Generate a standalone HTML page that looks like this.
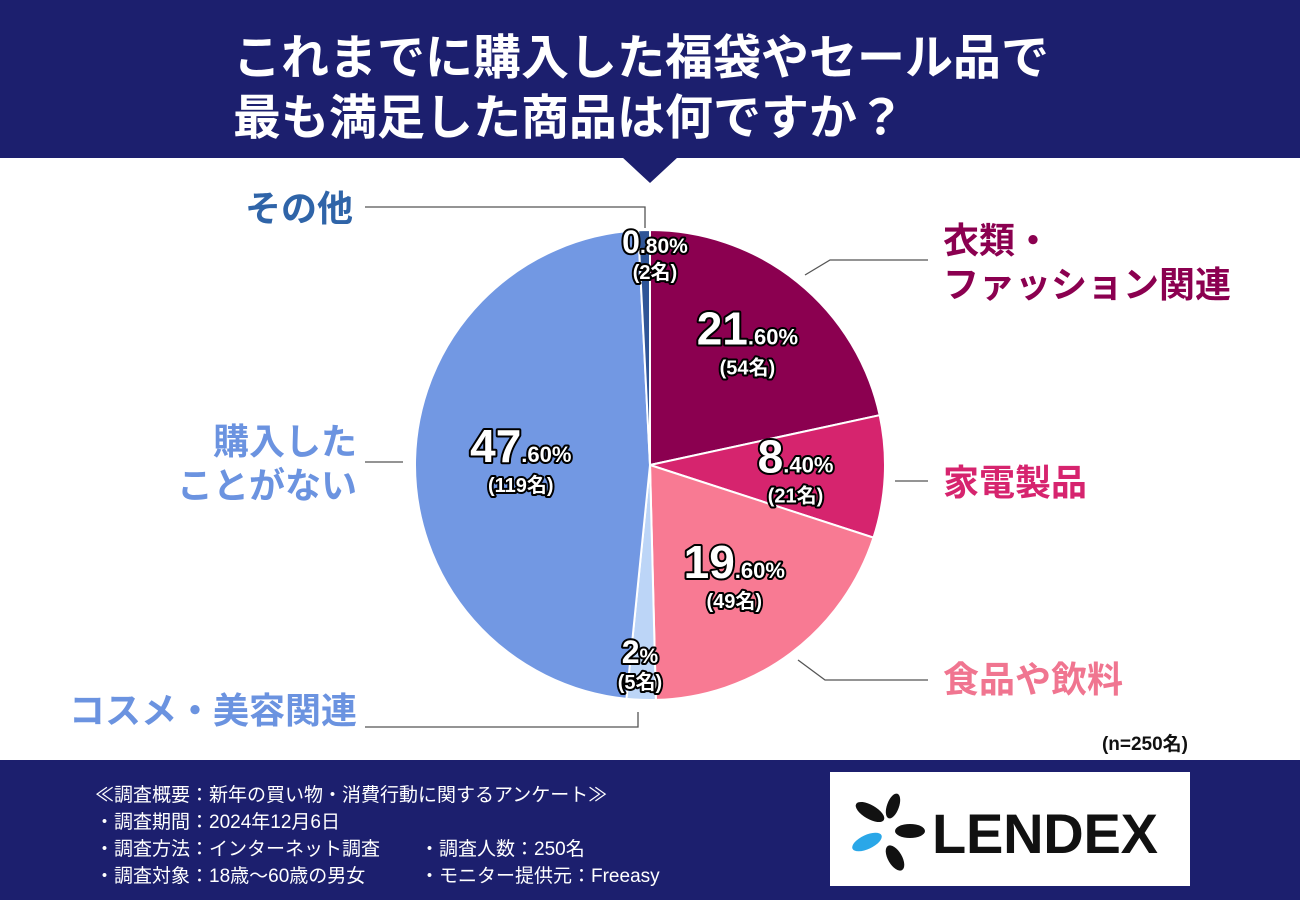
<!DOCTYPE html>
<html><head><meta charset="utf-8"><style>
body{margin:0;width:1300px;height:900px;overflow:hidden;background:#fff;font-family:"Liberation Sans","Noto Sans CJK JP",sans-serif}
svg text{font-family:"Liberation Sans","Noto Sans CJK JP",sans-serif}
</style></head><body>
<svg width="1300" height="900">
<rect x="0" y="0" width="1300" height="158" fill="#1c1f6e"/>
<polygon points="622,157 678,157 650,183" fill="#1c1f6e"/>
<text x="233" y="74" fill="#fff" font-size="48" font-weight="bold">これまでに購入した福袋やセール品で</text>
<text x="233" y="134" fill="#fff" font-size="48" font-weight="bold">最も満足した商品は何ですか？</text>
<g id="pie"></g>
<g id="leaders" stroke="#555" stroke-width="1.3" fill="none">
<polyline points="365,207 645,207 645,228"/>
<polyline points="805,275 830,260 928,260"/>
<polyline points="895,481 928,481"/>
<polyline points="798,660 825,680 928,680"/>
<polyline points="365,462 403,462"/>
<polyline points="365,727 638,727 638,712"/>
</g>
<g font-weight="bold" font-size="36">
<text x="245" y="221" fill="#2f64a8">その他</text>
<text x="943" y="253" fill="#8b0050">衣類・</text>
<text x="943" y="297" fill="#8b0050">ファッション関連</text>
<text x="943" y="495" fill="#d6246e">家電製品</text>
<text x="943" y="692" fill="#f07590">食品や飲料</text>
<text x="357" y="454" fill="#6b93e0" text-anchor="end">購入した</text>
<text x="357" y="498" fill="#6b93e0" text-anchor="end">ことがない</text>
<text x="357" y="723" fill="#6b93e0" text-anchor="end">コスメ・美容関連</text>
</g>
<g id="vals" font-weight="bold" stroke="#000" stroke-width="4" paint-order="stroke" fill="#fff" stroke-linejoin="round"></g>
<text x="1188" y="750" font-size="19" font-weight="bold" text-anchor="end" fill="#111">(n=250名)</text>
<rect x="0" y="760" width="1300" height="140" fill="#1c1f6e"/>
<g fill="#fff" font-size="19">
<text x="95" y="801">≪調査概要：新年の買い物・消費行動に関するアンケート≫</text>
<text x="95" y="828">・調査期間：2024年12月6日</text>
<text x="95" y="855">・調査方法：インターネット調査</text>
<text x="420" y="855">・調査人数：250名</text>
<text x="95" y="882">・調査対象：18歳〜60歳の男女</text>
<text x="420" y="882">・モニター提供元：Freeasy</text>
</g>
<rect x="830" y="772" width="360" height="114" fill="#fff"/>
<g>
<ellipse cx="870" cy="812" rx="16" ry="7" transform="rotate(30 870 812)" fill="#111"/>
<ellipse cx="893" cy="806" rx="13" ry="6" transform="rotate(-70 893 806)" fill="#111"/>
<ellipse cx="910" cy="831" rx="15" ry="7" fill="#111"/>
<ellipse cx="867" cy="842" rx="16" ry="7" transform="rotate(-25 867 842)" fill="#2aa7e8"/>
<ellipse cx="895" cy="858" rx="14" ry="7" transform="rotate(60 895 858)" fill="#111"/>
</g>
<text x="932" y="853" font-size="56" font-weight="bold" fill="#111" textLength="226">LENDEX</text>
</svg>
<script>
const categories=["衣類・ファッション関連","家電製品","食品や飲料","コスメ・美容関連","購入したことがない","その他"];
const values=[21.6,8.4,19.6,2,47.6,0.8];
const counts=[54,21,49,5,119,2];
const colors=["#8b0050","#d6246e","#f87a93","#bcd5f7","#7298e3","#2f5597"];
const NS="http://www.w3.org/2000/svg";
const cx=650,cy=465,R=235;
const total=values.reduce((a,b)=>a+b,0);
const pie=document.getElementById('pie'),vals=document.getElementById('vals');
function pt(a,r){return [cx+r*Math.sin(a),cy-r*Math.cos(a)];}
let acc=0;
const labR=[0.66,0.62,0.6,0.95,0.55,0.95];
values.forEach((v,i)=>{
 const a0=acc/total*2*Math.PI;acc+=v;const a1=acc/total*2*Math.PI;
 const p0=pt(a0,R),p1=pt(a1,R);
 const p=document.createElementNS(NS,'path');
 p.setAttribute('d',`M${cx},${cy}L${p0[0]},${p0[1]}A${R},${R} 0 ${a1-a0>Math.PI?1:0} 1 ${p1[0]},${p1[1]}Z`);
 p.setAttribute('fill',colors[i]);p.setAttribute('stroke','#fff');p.setAttribute('stroke-width','2');
 
 
 pie.appendChild(p);
 let am=(a0+a1)/2;let [lx,ly]=pt(am,R*labR[i]);
 if(i==5){lx=cx+5;ly=cy-R+23;} if(i==3){lx=cx-10;ly=cy+R-37;}
 const s=v.toFixed(2).split('.');const big=(v%1===0)?String(v):s[0];const small=(v%1===0)?'%':'.'+s[1]+'%';
 const t=document.createElementNS(NS,'text');
 t.setAttribute('x',lx);t.setAttribute('y',ly);t.setAttribute('text-anchor','middle');
 
 
 const big2=(i==3||i==5)?32:46,sm=(i==3||i==5)?21:22;
 t.innerHTML=`<tspan font-size="${big2}">${big}</tspan><tspan font-size="${sm}">${small}</tspan>`;
 vals.appendChild(t);
 const c=document.createElementNS(NS,'text');
 c.setAttribute('x',lx);c.setAttribute('y',ly+(i==3||i==5?26:30));c.setAttribute('text-anchor','middle');c.setAttribute('font-size','20');
 
 
 c.textContent='('+counts[i]+'名)';vals.appendChild(c);
});
</script>
</body></html>
